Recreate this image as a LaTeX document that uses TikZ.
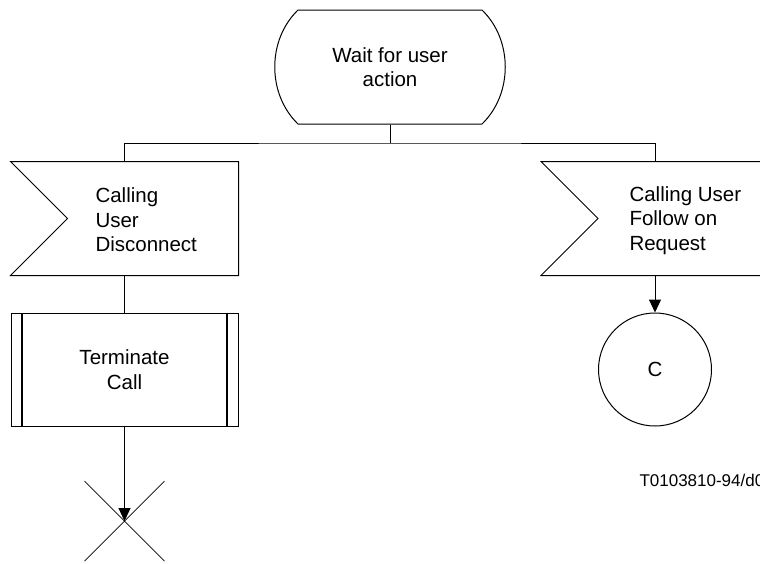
\documentclass[tikz,border=0pt]{standalone}
\usepackage{fontspec}
\setmainfont{Liberation Sans}
\usetikzlibrary{arrows.meta}

\begin{document}
\begin{tikzpicture}[x=1pt,y=-1pt,line width=1pt]

        \useasboundingbox (0,0) rectangle (760,563);

        \begin{scope}[every node/.style={inner sep=0pt,font=\fontsize{20.5}{24.5}\selectfont}]
          \node[minimum width=230pt,minimum height=114pt,align=center] (wait) at (390,67) {Wait for user\\action};
          \node[minimum width=227pt,minimum height=113pt] (disc)   at (124.5,218.5) {};
          \node[minimum width=227pt,minimum height=113pt] (follow) at (655,218.5)   {};
          \node[anchor=west,align=left] (disctext)   at (95,220)    {Calling\\User\\Disconnect};
          \node[anchor=west,align=left] (followtext) at (629,220.5) {Calling User\\Follow on\\Request};
          \node[draw,minimum width=227pt,minimum height=113pt,align=center] (term) at (124.5,369.5) {Terminate\\Call};
          \node[draw,circle,minimum size=113pt] (c) at (655,369.5) {C};
          \node[anchor=west,font=\fontsize{17}{20}\selectfont] (ref) at (639,480) {T0103810-94/d0};
        \end{scope}

        \draw (298,10) -- (482,10) .. controls (513,40) and (513,94) .. (482,124)
          -- (298,124) .. controls (267,94) and (267,40) .. (298,10) -- cycle;

        \foreach \n in {disc,follow}
          \draw (\n.north west) -- (\n.north east) -- (\n.south east) -- (\n.south west)
            -- ([xshift=57pt]\n.west) -- cycle;

        \draw[line width=2pt] ([xshift=11.5pt]term.north west) -- ([xshift=11.5pt]term.south west)
          ([xshift=-11.5pt]term.north east) -- ([xshift=-11.5pt]term.south east);

        \coordinate (fork) at (390,143);
        \coordinate (stop) at (124.5,521);

        \draw (wait.south) -- (fork);
        \draw (disc.north) |- (fork) -| (follow.north);
        \draw (disc.south) -- (term.north);

        \begin{scope}[every edge/.style={draw,-{Triangle[length=13pt,width=12pt]}}]
          \path (follow) edge (c);
          \path (term)   edge (stop);
        \end{scope}

        \draw[line width=0.7pt] ([shift={(-40,-40)}]stop) -- ([shift={(40,40)}]stop)
          ([shift={(40,-40)}]stop) -- ([shift={(-40,40)}]stop);

      \end{tikzpicture}
\end{document}
